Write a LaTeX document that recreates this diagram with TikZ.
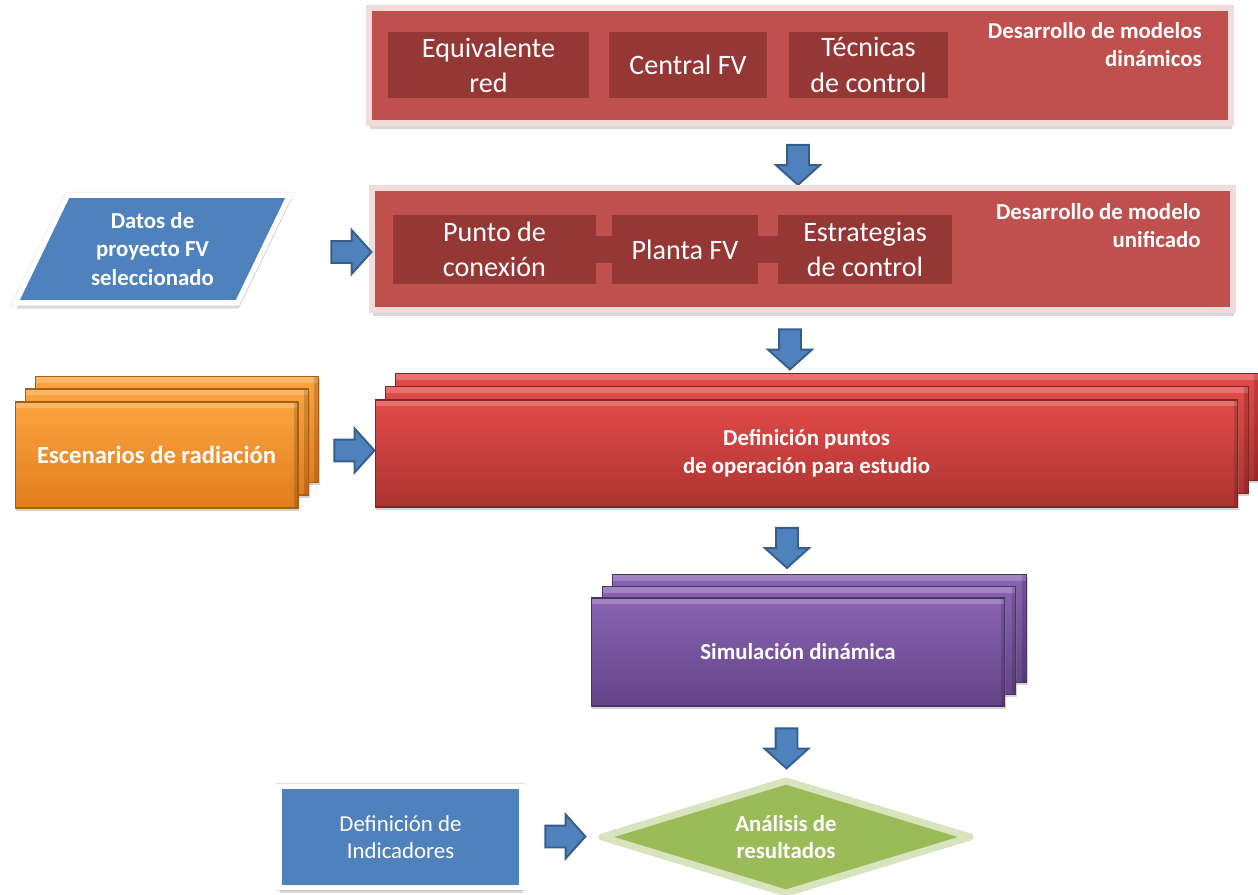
\documentclass[tikz,border=0pt]{standalone}
\usepackage{fontspec}
\setmainfont{Carlito}
\usetikzlibrary{shapes.geometric,shapes.arrows,shadows}
\definecolor{rojo}{HTML}{C0504D}
\definecolor{rojoosc}{HTML}{953735}
\definecolor{rosa}{HTML}{F2DCDB}
\definecolor{azul}{HTML}{4F81BD}
\definecolor{azulosc}{HTML}{385D8A}
\definecolor{verde}{HTML}{9BBB59}
\definecolor{verdecl}{HTML}{D7E4BD}
\definecolor{naranjaA}{HTML}{FBA43F}
\definecolor{naranjaB}{HTML}{E27D1F}
\definecolor{rojoA}{HTML}{E24B48}
\definecolor{rojoB}{HTML}{AC3331}
\definecolor{moradoA}{HTML}{8A63B3}
\definecolor{moradoB}{HTML}{634486}

\begin{document}
\begin{tikzpicture}[x=0.02cm, y=-0.02cm,
	sombra/.style = {drop shadow={opacity=.35, shadow xshift=.6pt, shadow yshift=-1.6pt}},
	sombraborde/.style = {drop shadow={opacity=.3, shadow xshift=.7pt, shadow yshift=-3.2pt}},
	panel/.style = {rectangle, fill=rojo, draw=rosa, line width=0.12cm, sombraborde},
	subbox/.style = {rectangle, fill=rojoosc, text=white, font=\fontsize{16}{20}\selectfont, align=center, inner sep=0pt},
	paneltitle/.style = {text=white, font=\bfseries\fontsize{13}{16}\selectfont, align=right, inner sep=0pt},
	bar/.style = {rojoosc, line width=0.54cm},
	flecha/.style = {single arrow, fill=azul, draw=azulosc, line width=1.1pt, inner xsep=0pt, inner ysep=0.2cm, minimum width=0pt, minimum height=0.8cm, single arrow head extend=0.22cm, single arrow tip angle=96},
	bisel/.style = {path picture={\fill[white, opacity=.22] (path picture bounding box.north west) rectangle ([yshift=-3.5pt]path picture bounding box.north east);
		\fill[black, opacity=.15] ([xshift=-2.5pt]path picture bounding box.north east) rectangle (path picture bounding box.south east);}},
	stack/.style = {rectangle, line width=.6pt, text=white, font=\bfseries\fontsize{13}{16}\selectfont, align=center, sombra, bisel},
	naranja/.style = {stack, top color=naranjaA, bottom color=naranjaB, draw=naranjaB!75!black, minimum width=5.66cm, minimum height=2.12cm},
	rojobox/.style = {stack, top color=rojoA, bottom color=rojoB, draw=rojoB!75!black, minimum width=17.26cm, minimum height=2.14cm},
	morado/.style = {stack, top color=moradoA, bottom color=moradoB, draw=moradoB!75!black, minimum width=8.28cm, minimum height=2.16cm},
	entrada/.style = {fill=azul, draw=white, line width=0.11cm, text=white, align=center, preaction={draw=black!12, line width=0.13cm}, sombraborde}]

\useasboundingbox (0,0) rectangle (1258,895);

\node[panel, minimum width=17.24cm, minimum height=2.3cm] (modelos) at (800,65.5) {};
\node[subbox, minimum width=4.04cm, minimum height=1.32cm] (equiv) at (488.5,65) {Equivalente\\red};
\node[subbox, minimum width=3.16cm, minimum height=1.32cm] (central) at (688,65) {Central FV};
\node[subbox, minimum width=3.18cm, minimum height=1.32cm] (tecnicas) at (868.5,65) {Técnicas\\de control};
\node[paneltitle, anchor=north east] (titmodelos) at (1202,22) {Desarrollo de modelos\\dinámicos};

\node[flecha, rotate=-90] (f1) at (798,160) {};

\node[panel, minimum width=17.22cm, minimum height=2.44cm] (unificado) at (802.5,249) {};
\node[subbox, minimum width=4.06cm, minimum height=1.38cm] (punto) at (494.5,249.5) {Punto de\\conexión};
\node[subbox, minimum width=2.92cm, minimum height=1.38cm] (planta) at (685,249.5) {Planta FV};
\node[subbox, minimum width=3.48cm, minimum height=1.38cm] (estrat) at (865,249.5) {Estrategias\\de control};
\draw[bar] (punto) -- (planta);
\draw[bar] (planta) -- (estrat);
\node[paneltitle, anchor=north east] (titunificado) at (1201,203) {Desarrollo de modelo\\unificado};

\node[entrada, trapezium, trapezium left angle=62.5, trapezium right angle=117.5, trapezium stretches=true, minimum width=5.5cm, minimum height=2.16cm, inner sep=0pt, font=\bfseries\fontsize{13}{16}\selectfont] (datos) at (152.5,249) {Datos de\\proyecto FV\\seleccionado};
\node[flecha] (f2) at (346.5,252) {};

\node[flecha, rotate=-90] (f3) at (790,344.5) {};

\node[naranja] (esc3) at (177,429.5) {};
\node[naranja] (esc2) at (167,442) {};
\node[naranja, font=\bfseries\fontsize{14}{17}\selectfont] (escenarios) at (156.5,455) {Escenarios de radiación};
\node[flecha] (f4) at (349.5,450.5) {};

\node[rojobox] (def3) at (827,427) {};
\node[rojobox] (def2) at (817,440) {};
\node[rojobox] (definicion) at (806.5,453.5) {Definición puntos\\de operación para estudio};

\node[flecha, rotate=-90] (f5) at (787,543) {};

\node[morado] (sim3) at (819.5,628.5) {};
\node[morado] (sim2) at (809,640.5) {};
\node[morado] (simulacion) at (798,652) {Simulación dinámica};

\node[flecha, rotate=-90] (f6) at (786.5,743.5) {};

\node[entrada, rectangle, minimum width=4.86cm, minimum height=2.02cm, font=\fontsize{13}{15.5}\selectfont] (indicadores) at (400.5,837) {Definición de\\Indicadores};
\node[flecha] (f7) at (560.5,836.5) {};

\node[diamond, aspect=3.1, fill=verde, draw=verdecl, line width=0.14cm, line join=round, minimum width=7.42cm, minimum height=2.3cm, inner sep=0pt, text=white, align=center, font=\bfseries\fontsize{13}{15}\selectfont, sombra] (analisis) at (786,837) {Análisis de\\resultados};

\end{tikzpicture}
\end{document}
